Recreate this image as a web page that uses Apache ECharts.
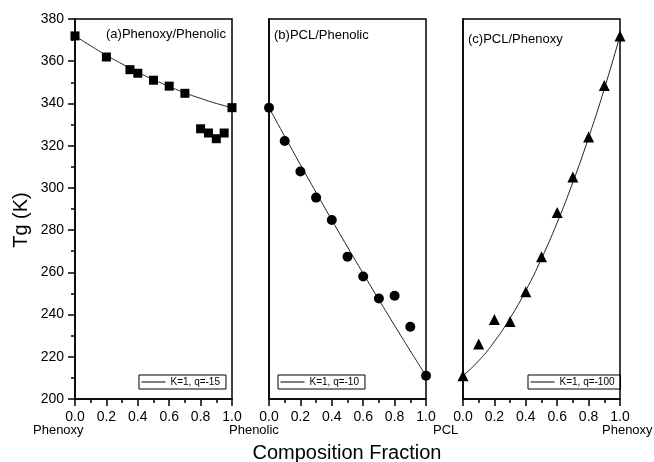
<!DOCTYPE html>
<html>
<head>
<meta charset="utf-8">
<title>Tg vs composition</title>
<script src="https://cdn.jsdelivr.net/npm/echarts@6/dist/echarts.min.js"></script>
<style>
  body { margin: 0; background: #fff; }
  #chart { width: 654px; height: 462px; }
</style>
</head>
<body>
<div id="chart"></div>
<script type="text/javascript">
// composition fractions and Tg values
var fracA = [0, 0.2, 0.35, 0.4, 0.5, 0.6, 0.7, 0.8, 0.85, 0.9, 0.95, 1.0];
var tgA = [372, 362, 356, 354.3, 351, 348.2, 344.8, 328, 326, 323.3, 326, 338];
var fracFit = [0, 0.1, 0.2, 0.3, 0.4, 0.5, 0.6, 0.7, 0.8, 0.9, 1.0];
var fitA = [372, 367.3, 362.8, 358.7, 354.8, 351.3, 348, 345, 342.4, 340, 338];

var fracB = [0, 0.1, 0.2, 0.3, 0.4, 0.5, 0.6, 0.7, 0.8, 0.9, 1.0];
var tgB = [338, 322.2, 307.8, 295.4, 284.8, 267.4, 258, 247.6, 248.9, 234.2, 211];
var fitB = [338, 324.4, 311, 297.8, 284.8, 272, 259.4, 247, 234.8, 222.8, 211];

var fracC = [0, 0.1, 0.2, 0.3, 0.4, 0.5, 0.6, 0.7, 0.8, 0.9, 1.0];
var tgC = [211, 226, 237.6, 236.7, 250.8, 267.4, 288.3, 305.1, 324.1, 348.5, 372];
var fitC = [211, 218.1, 227.2, 238.3, 251.4, 266.5, 283.6, 302.7, 323.8, 346.9, 372];

var panelTitles = ['(a)Phenoxy/Phenolic', '(b)PCL/Phenolic', '(c)PCL/Phenoxy'];
var fitNames = ['K=1, q=-15', 'K=1, q=-10', 'K=1, q=-100'];
var endLabels = ['Phenoxy', 'Phenolic', 'Phenolic', 'PCL', 'PCL', 'Phenoxy'];

var FONT = '"Liberation Sans", Arial, sans-serif';

function pairs(xs, ys) {
  return xs.map(function (x, i) { return [x, ys[i]]; });
}

var chart = echarts.init(document.getElementById('chart'));

var gridLefts = [75, 269, 463];
var grids = gridLefts.map(function (l) {
  return { left: l, top: 19, width: 157, height: 380, show: true, borderColor: '#000', borderWidth: 1.5, backgroundColor: 'transparent' };
});

var xAxes = [0, 1, 2].map(function (i) {
  return {
    type: 'value', gridIndex: i, min: 0, max: 1, interval: 0.2,
    axisLine: { lineStyle: { color: '#000', width: 1.5 } },
    axisTick: { inside: false, length: 7, lineStyle: { color: '#000', width: 1.5 } },
    minorTick: { show: true, splitNumber: 2, length: 4, lineStyle: { color: '#000', width: 1.5 } },
    splitLine: { show: false },
    axisLabel: {
      color: '#000', fontSize: 14, fontFamily: FONT, margin: 11,
      showMinLabel: true, showMaxLabel: true,
      formatter: function (v) { return v.toFixed(1); }
    }
  };
});

var yAxes = [0, 1, 2].map(function (i) {
  return {
    type: 'value', gridIndex: i, min: 200, max: 380, interval: 20,
    axisLine: { show: true, lineStyle: { color: '#000', width: 1.5 } },
    axisTick: { show: i === 0, inside: false, length: 7, lineStyle: { color: '#000', width: 1.5 } },
    minorTick: { show: i === 0, splitNumber: 2, length: 4, lineStyle: { color: '#000', width: 1.5 } },
    splitLine: { show: false },
    axisLabel: { show: i === 0, color: '#000', fontSize: 14, fontFamily: FONT, margin: 11 }
  };
});

var dataSets = [
  { pts: pairs(fracA, tgA), fit: pairs(fracFit, fitA), symbol: 'rect', size: 9 },
  { pts: pairs(fracB, tgB), fit: pairs(fracFit, fitB), symbol: 'circle', size: 10 },
  { pts: pairs(fracC, tgC), fit: pairs(fracFit, fitC), symbol: 'triangle', size: 11 }
];

var series = [];
dataSets.forEach(function (d, i) {
  series.push({
    name: fitNames[i], type: 'line', xAxisIndex: i, yAxisIndex: i,
    data: d.fit, smooth: true, symbol: 'none', showSymbol: false,
    itemStyle: { color: '#000' },
    lineStyle: { color: '#222', width: 1 }, z: 2
  });
  series.push({
    name: 'data' + i, type: 'scatter', xAxisIndex: i, yAxisIndex: i,
    data: d.pts, symbol: d.symbol, symbolSize: d.size,
    itemStyle: { color: '#000', opacity: 1 }, clip: false, z: 3
  });
});

var legendLefts = [139, 278, 528];
var legends = fitNames.map(function (n, i) {
  return {
    data: [n], left: legendLefts[i], top: 375, orient: 'horizontal',
    borderColor: '#000', borderWidth: 1, padding: [2, 6, 2, 2],
    itemWidth: 24, itemHeight: 10, selectedMode: false,
    itemStyle: { opacity: 0 },
    lineStyle: { color: '#000', width: 1 },
    textStyle: { color: '#000', fontSize: 10, fontFamily: FONT }
  };
});

var graphics = [];
var titlePos = [[106, 34], [274, 35], [468, 39]];
panelTitles.forEach(function (t, i) {
  graphics.push({ type: 'text', x: titlePos[i][0], y: titlePos[i][1],
    style: { text: t, fill: '#000', font: '13px ' + FONT, verticalAlign: 'middle' } });
});
var endPos = [33, 229, 229, 433, 433, 602];
[0, 1, 3, 5].forEach(function (k) {
  graphics.push({ type: 'text', x: endPos[k], y: 430,
    style: { text: endLabels[k], fill: '#000', font: '13px ' + FONT, verticalAlign: 'middle' } });
});
graphics.push({ type: 'text', x: 347, y: 453,
  style: { text: 'Composition Fraction', fill: '#000', font: '20px ' + FONT, align: 'center', verticalAlign: 'middle' } });
graphics.push({ type: 'text', x: 21, y: 220, rotation: Math.PI / 2,
  style: { text: 'Tg (K)', fill: '#000', font: '20px ' + FONT, align: 'center', verticalAlign: 'middle' } });

var option = {
  backgroundColor: '#fff',
  animation: false,
  grid: grids,
  xAxis: xAxes,
  yAxis: yAxes,
  legend: legends,
  series: series,
  graphic: graphics
};
chart.setOption(option);
</script>
</body>
</html>
